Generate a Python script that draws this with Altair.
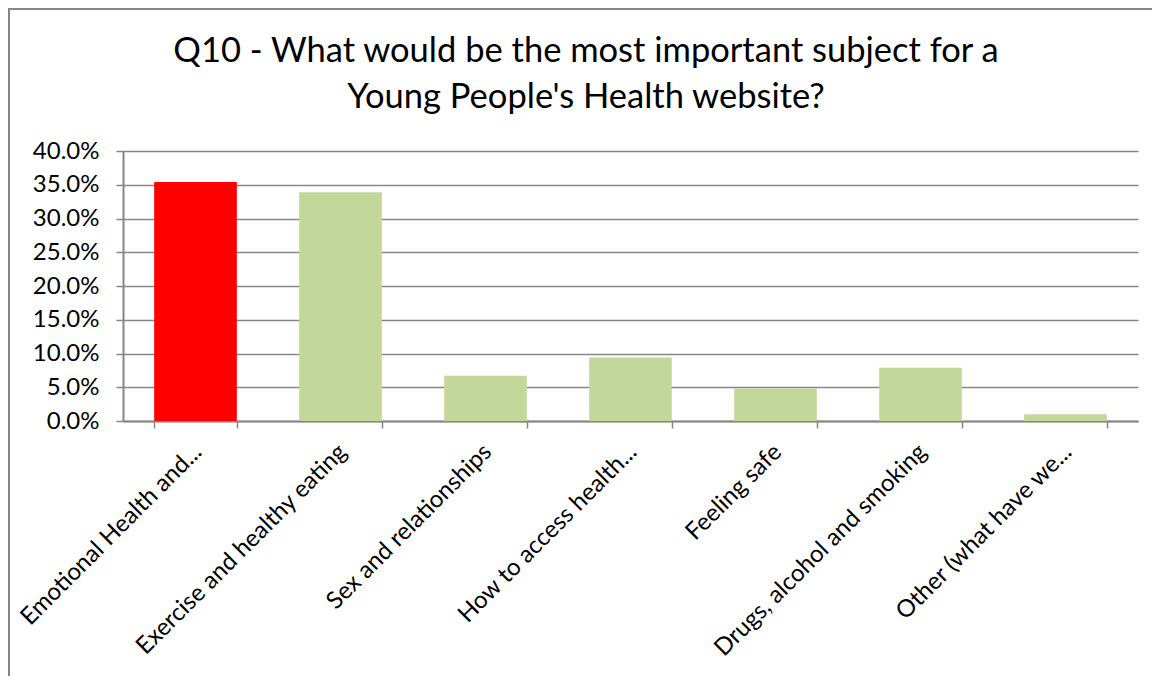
import altair as alt
import pandas as pd

categories = [
    "Emotional Health and...",
    "Exercise and healthy eating",
    "Sex and relationships",
    "How to access health...",
    "Feeling safe",
    "Drugs, alcohol and smoking",
    "Other (what have we...",
]
values = [0.354, 0.339, 0.067, 0.094, 0.048, 0.079, 0.010]
highlight = [True, False, False, False, False, False, False]
y_ticks = [0.0, 0.05, 0.10, 0.15, 0.20, 0.25, 0.30, 0.35, 0.40]
title_lines = ["Q10 - What would be the most important subject for a", "Young People's Health website?"]

df = pd.DataFrame({"category": categories, "value": values, "highlight": highlight})

FONT = "Lato"
W, H = 1015, 270
PAD_L, PAD_T, PAD_R, PAD_B = 115, 143, 14, 255

bars = alt.Chart(df).mark_bar().encode(
    x=alt.X(
        "category:N",
        sort=categories,
        scale=alt.Scale(paddingInner=0.43, paddingOuter=0.215),
        axis=alt.Axis(
            title=None,
            labelAngle=-45,
            labelAlign="right",
            labelBaseline="middle",
            labelFontSize=24,
            labelFont=FONT,
            labelColor="#000000",
            labelLimit=0,
            labelPadding=20,
            labelOffset=2,
            tickBand="extent",
            ticks=True,
            tickSize=7,
            tickColor="#868686",
            tickWidth=1.5,
            domainColor="#868686",
            domainWidth=2,
            grid=False,
        ),
    ),
    y=alt.Y(
        "value:Q",
        scale=alt.Scale(domain=[0, 0.4], nice=False),
        axis=alt.Axis(
            title=None,
            values=y_ticks,
            format=".1%",
            labelFontSize=24,
            labelFont=FONT,
            labelColor="#000000",
            labelPadding=17,
            tickSize=7,
            tickColor="#868686",
            tickWidth=1.5,
            domainColor="#868686",
            domainWidth=2,
            grid=True,
            gridColor="#868686",
            gridWidth=1.5,
        ),
    ),
    color=alt.Color(
        "highlight:N",
        scale=alt.Scale(domain=[True, False], range=["#FF0000", "#C4D79B"]),
        legend=None,
    ),
)

title_df = pd.DataFrame({"line": title_lines, "ypos": [-89.5, -43]})
title = alt.Chart(title_df).mark_text(
    font=FONT, fontSize=34.5, color="#000000", align="center", baseline="alphabetic"
).encode(
    text="line:N",
    x=alt.value(463),
    y=alt.Y("ypos:Q", scale=None),
)

frame = alt.Chart(df).mark_rect(fill=None, stroke="#868686", strokeWidth=2).encode(
    x=alt.value(-PAD_L + 1),
    x2=alt.value(W + PAD_R + 20),
    y=alt.value(-PAD_T + 1),
    y2=alt.value(H + PAD_B + 20),
)

chart = alt.layer(frame, bars, title).properties(
    width=W,
    height=H,
    padding={"left": PAD_L, "top": PAD_T, "right": PAD_R, "bottom": PAD_B},
    autosize=alt.AutoSizeParams(type="none"),
).configure_view(stroke=None)

chart.save("out.html", embed_options={"renderer": "svg", "actions": False})
